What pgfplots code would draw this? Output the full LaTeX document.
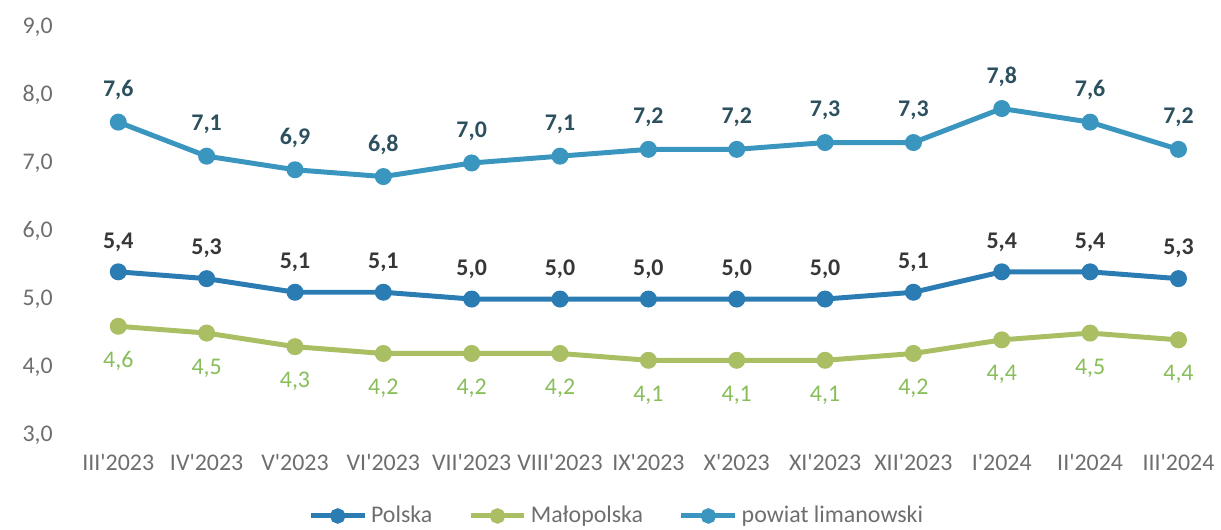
\documentclass[border=0pt]{standalone}
\usepackage{pgfplots}
\pgfplotsset{compat=1.18}
\usepackage{fontspec}
\setmainfont{Carlito}

\definecolor{polska}{RGB}{44,124,180}
\definecolor{malo}{RGB}{170,190,100}
\definecolor{powiat}{RGB}{58,150,190}
\definecolor{lblpol}{RGB}{55,55,55}
\definecolor{lblpow}{RGB}{45,80,95}
\definecolor{lblmal}{RGB}{135,190,90}
\definecolor{ticktxt}{RGB}{110,110,110}

\pgfkeys{/pgf/number format/.cd, use comma, fixed, fixed zerofill, precision=1, assume math mode=true}

\begin{document}
\begin{tikzpicture}
\begin{axis}[
    at={(0,0)}, anchor=south west,
    scale only axis,
    width=574.5pt, height=205pt,
    xmin=-0.55, xmax=12.4,
    ymin=3, ymax=9,
    axis line style={draw=none},
    tick style={draw=none},
    xtick={0,...,12},
    xticklabels={III\textquotesingle 2023, IV\textquotesingle 2023, V\textquotesingle 2023, VI\textquotesingle 2023, VII\textquotesingle 2023, VIII\textquotesingle 2023, IX\textquotesingle 2023, X\textquotesingle 2023, XI\textquotesingle 2023, XII\textquotesingle 2023, I\textquotesingle 2024, II\textquotesingle 2024, III\textquotesingle 2024},
    ytick={3,4,5,6,7,8,9},
    yticklabel={\pgfmathprintnumber{\tick}},
    tick label style={font=\fontsize{12}{14}\selectfont, text=ticktxt},
    xticklabel style={yshift=-6pt},
    yticklabel style={xshift=-5pt},
    every axis plot/.append style={line width=2.5pt, mark=*, mark size=3pt},
    nodes near coords={\pgfmathprintnumber{\pgfplotspointmeta}},
    legend columns=3,
    legend style={at={(0.479,-0.198)}, anchor=center, draw=none, fill=none,
        font=\fontsize{12}{14}\selectfont, text=ticktxt,
        /tikz/every even column/.append style={column sep=16pt},
        inner sep=0pt},
    legend image code/.code={\draw[mark repeat=2, mark phase=2, mark size=2.6pt, #1] plot coordinates {(0pt,0pt) (13.5pt,0pt) (27pt,0pt)};},
]
\addplot[color=polska, every node near coord/.style={anchor=center, yshift=15pt, font=\fontsize{12}{14}\selectfont\bfseries, text=lblpol}]
    coordinates {(0,5.4) (1,5.3) (2,5.1) (3,5.1) (4,5.0) (5,5.0) (6,5.0) (7,5.0) (8,5.0) (9,5.1) (10,5.4) (11,5.4) (12,5.3)};
\addlegendentry{Polska}
\addplot[color=malo, every node near coord/.style={anchor=center, yshift=-17.5pt, font=\fontsize{12}{14}\selectfont, text=lblmal}]
    coordinates {(0,4.6) (1,4.5) (2,4.3) (3,4.2) (4,4.2) (5,4.2) (6,4.1) (7,4.1) (8,4.1) (9,4.2) (10,4.4) (11,4.5) (12,4.4)};
\addlegendentry{Małopolska}
\addplot[color=powiat, every node near coord/.style={anchor=center, yshift=16pt, font=\fontsize{12}{14}\selectfont\bfseries, text=lblpow}]
    coordinates {(0,7.6) (1,7.1) (2,6.9) (3,6.8) (4,7.0) (5,7.1) (6,7.2) (7,7.2) (8,7.3) (9,7.3) (10,7.8) (11,7.6) (12,7.2)};
\addlegendentry{powiat limanowski}
\end{axis}
\path (-35pt,-45.5pt) rectangle (575.5pt,218.5pt);
\end{tikzpicture}
\end{document}
